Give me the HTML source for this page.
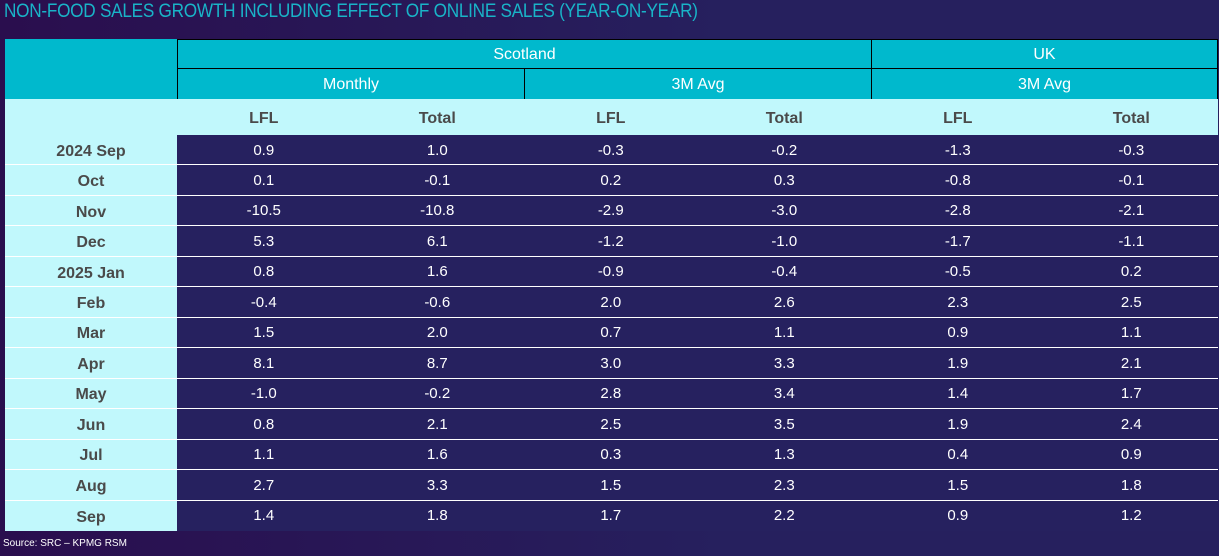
<!DOCTYPE html>
<html><head><meta charset="utf-8"><style>
*{margin:0;padding:0;box-sizing:border-box}
body{width:1219px;height:556px;overflow:hidden;background:linear-gradient(90deg,#2a0e4e,#26205e 60%,#26205e);font-family:"Liberation Sans",sans-serif;position:relative}
.t{position:absolute;left:4px;top:1px;font-size:19px;color:#19b4c8;letter-spacing:-0.3px;transform:scaleX(0.905);transform-origin:0 0;white-space:nowrap}
.s{position:absolute;left:3px;top:538px;font-size:10px;color:#fff}
.c{position:absolute;display:flex;align-items:center;justify-content:center}
.h{background:#00b9cd;color:#fff;font-size:16px;border:1px solid #000}
.l{background:#c1f8fc;color:#4a4a4a;font-weight:bold;font-size:16px}
.d{color:#fff;font-size:15px}
</style></head><body>
<div class="t">NON-FOOD SALES GROWTH INCLUDING EFFECT OF ONLINE SALES (YEAR-ON-YEAR)</div>
<div class="c h" style="left:5px;top:39px;width:173px;height:61px;border:none"></div>
<div class="c h" style="left:177px;top:39px;width:695px;height:30px;padding-top:2px">Scotland</div>
<div class="c h" style="left:871px;top:39px;width:347px;height:30px;padding-top:2px">UK</div>
<div class="c h" style="left:177px;top:68px;width:348px;height:32px;padding-top:2px">Monthly</div>
<div class="c h" style="left:524px;top:68px;width:348px;height:32px;padding-top:2px">3M Avg</div>
<div class="c h" style="left:871px;top:68px;width:347px;height:32px;padding-top:2px">3M Avg</div>
<div class="c l" style="left:5px;top:99px;width:1213px;height:36px"></div>
<div id="g"></div>
<div class="s">Source: SRC – KPMG RSM</div>
<script>
var hd=["LFL","Total","LFL","Total","LFL","Total"];
var rows=[["2024 Sep","0.9","1.0","-0.3","-0.2","-1.3","-0.3"],["Oct","0.1","-0.1","0.2","0.3","-0.8","-0.1"],["Nov","-10.5","-10.8","-2.9","-3.0","-2.8","-2.1"],["Dec","5.3","6.1","-1.2","-1.0","-1.7","-1.1"],["2025 Jan","0.8","1.6","-0.9","-0.4","-0.5","0.2"],["Feb","-0.4","-0.6","2.0","2.6","2.3","2.5"],["Mar","1.5","2.0","0.7","1.1","0.9","1.1"],["Apr","8.1","8.7","3.0","3.3","1.9","2.1"],["May","-1.0","-0.2","2.8","3.4","1.4","1.7"],["Jun","0.8","2.1","2.5","3.5","1.9","2.4"],["Jul","1.1","1.6","0.3","1.3","0.4","0.9"],["Aug","2.7","3.3","1.5","2.3","1.5","1.8"],["Sep","1.4","1.8","1.7","2.2","0.9","1.2"]];
var h='',cw=173.5;
for(var j=0;j<6;j++)h+='<div class="c" style="left:'+(177+j*cw)+'px;top:101px;width:'+cw+'px;height:36px;color:#4a4a4a;font-weight:bold;font-size:16px">'+hd[j]+'</div>';
for(var i=0;i<13;i++){var y=135+i*30.46;
h+='<div style="position:absolute;left:5px;top:'+y+'px;width:1213px;height:30.46px;background:#26215f;'+(i<12?'border-bottom:1px solid #fff':'')+'"></div>';
h+='<div class="c l" style="left:5px;top:'+y+'px;width:172px;height:'+(i<12?29.46:30.46)+'px;padding-top:4px">'+rows[i][0]+'</div>';
for(var j=0;j<6;j++)h+='<div class="c d" style="left:'+(177+j*cw)+'px;top:'+y+'px;width:'+cw+'px;height:30px">'+rows[i][j+1]+'</div>';}
document.getElementById('g').innerHTML=h;
</script>
</body></html>
